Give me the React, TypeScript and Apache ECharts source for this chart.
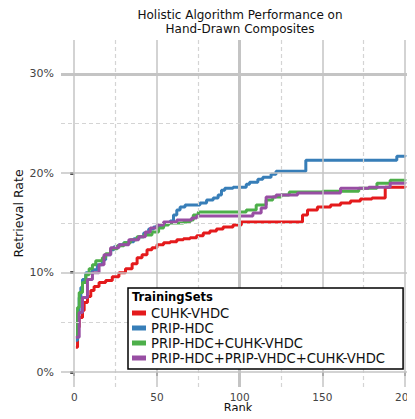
import React, { useEffect, useRef } from "react";
import * as echarts from "echarts";

// Rank vs retrieval rate (%) — step points [rank, rate]
const cuhkVhdc: [number, number][] = [
  [1, 2.5], [2, 4.5], [3, 5.5], [5, 6.2], [6, 7], [8, 7.6], [10, 8.2], [12, 8.6], [15, 9],
  [19, 9.2], [23, 9.6], [27, 10], [31, 10.4], [35, 10.9], [38, 11.5], [41, 11.8], [44, 12.3],
  [47, 12.5], [50, 12.8], [54, 13], [58, 13.1], [62, 13.3], [66, 13.4], [70, 13.5], [74, 13.7],
  [78, 14], [82, 14.2], [86, 14.4], [90, 14.6], [96, 14.8], [101, 15.1], [138, 15.8], [141, 16.3],
  [147, 16.6], [155, 16.8], [161, 17], [167, 17.2], [173, 17.4], [180, 17.5], [188, 18.6], [200, 18.7],
];
const pripHdc: [number, number][] = [
  [1, 3.2], [2, 6], [3, 7.5], [4, 8.5], [5, 9.3], [7, 10], [11, 10.3], [14, 10.8], [17, 11.3],
  [19, 11.8], [22, 12.3], [24, 12.6], [27, 12.8], [30, 13], [33, 13.1], [36, 13.4], [39, 13.6],
  [42, 14], [45, 14.4], [48, 14.6], [52, 14.8], [55, 15], [58, 15.2], [60, 15.8], [62, 16.3],
  [64, 16.6], [67, 16.8], [76, 17], [80, 17.3], [84, 17.5], [87, 17.8], [89, 18.3], [91, 18.5],
  [96, 18.6], [104, 18.9], [106, 19.1], [111, 19.4], [114, 19.6], [119, 19.9], [122, 20.2],
  [140, 21.3], [195, 21.7], [200, 21.8],
];
const pripHdcCuhk: [number, number][] = [
  [1, 3.5], [2, 6.5], [3, 8], [5, 9], [7, 9.8], [9, 10.4], [11, 10.8], [13, 11.2], [17, 11.5],
  [19, 11.9], [22, 12.4], [26, 12.7], [30, 13], [34, 13.3], [38, 13.6], [42, 13.8], [47, 14.1],
  [51, 14.5], [54, 14.8], [57, 15], [66, 15.1], [70, 15.3], [72, 15.8], [75, 16.1], [104, 16.3],
  [110, 16.8], [116, 17.3], [120, 17.6], [125, 17.8], [130, 18.1], [150, 18.2], [172, 18.5],
  [183, 19], [191, 19.3], [200, 19.4],
];
const pripAll: [number, number][] = [
  [1, 3.5], [3, 6], [5, 7.5], [8, 9.3], [11, 10], [15, 10.8], [18, 11.8], [22, 12.5], [27, 12.8],
  [33, 13.3], [39, 13.6], [43, 14.1], [46, 14.5], [50, 14.8], [54, 15.1], [62, 15.3], [71, 15.5],
  [74, 15.7], [108, 16], [113, 16.5], [116, 17.6], [122, 17.8], [135, 18], [161, 18.5], [178, 18.6],
  [191, 19], [200, 19.1],
];

const seriesNames = [
  "CUHK-VHDC",
  "PRIP-HDC",
  "PRIP-HDC+CUHK-VHDC",
  "PRIP-HDC+PRIP-VHDC+CUHK-VHDC",
];
const seriesColors = ["#e41a1c", "#377eb8", "#4daf4a", "#984ea3"];
const seriesData = [cuhkVhdc, pripHdc, pripHdcCuhk, pripAll];

const xTicks = [0, 50, 100, 150, 200];
const xMinor = [25, 75, 125, 175];
const yTicks = [0, 10, 20, 30];
const yMinor = [5, 15, 25];

export default function App() {
  const ref = useRef<HTMLDivElement>(null);
  useEffect(() => {
    if (!ref.current) return;
    const chart = echarts.init(ref.current, null, { renderer: "svg" });
    const major = { color: "#c4c4c4", width: 1.5, type: "solid" };
    const thick = { color: "#c4c4c4", width: 3, type: "solid" };
    const minor = { color: "#d4d4d4", width: 1.2, type: [4, 3] };
    const gridLines: any[] = [];
    xTicks.forEach((v) => gridLines.push({ xAxis: v, lineStyle: v === 100 ? thick : major }));
    xMinor.forEach((v) => gridLines.push({ xAxis: v, lineStyle: minor }));
    yTicks.forEach((v) => gridLines.push({ yAxis: v, lineStyle: v === 30 ? thick : major }));
    yMinor.forEach((v) => gridLines.push({ yAxis: v, lineStyle: minor }));

    chart.setOption({
      animation: false,
      backgroundColor: "#ffffff",
      textStyle: { fontFamily: "DejaVu Sans" },
      title: [
        {
          text: "TrainingSets",
          left: 132,
          top: 291,
          z: 12,
          textStyle: { fontSize: 11.5, fontWeight: "bold", color: "#000", fontFamily: "DejaVu Sans" },
          padding: 0,
        },
      ],
      graphic: [
        {
          type: "text",
          x: 240,
          y: 8,
          style: {
            text: "Holistic Algorithm Performance on\nHand-Drawn Composites",
            textAlign: "center",
            font: "12px 'DejaVu Sans'",
            lineHeight: 14,
            fill: "#111",
          },
        },
      ],
      grid: { left: 61, right: 0, top: 40, bottom: 32, containLabel: false, outerBoundsMode: "none" },
      xAxis: {
        type: "value",
        min: -8,
        max: 206,
        name: "Rank",
        nameLocation: "middle",
        nameGap: 15,
        nameMoveOverlap: false,
        nameTextStyle: { fontSize: 11.5, color: "#111", lineHeight: 12 },
        axisLine: { show: false },
        splitLine: { show: false },
        axisTick: { show: true, customValues: xTicks, length: 4, lineStyle: { color: "#333", width: 1.5 } },
        axisLabel: { customValues: xTicks, fontSize: 10.5, lineHeight: 11, color: "#444", margin: 4 },
      },
      yAxis: {
        type: "value",
        min: -1.5,
        max: 33.4,
        name: "Retrieval Rate",
        nameLocation: "middle",
        nameGap: 36,
        nameMoveOverlap: false,
        nameRotate: 90,
        nameTextStyle: { fontSize: 12.5, color: "#111" },
        axisLine: { show: false },
        splitLine: { show: false },
        axisTick: { show: true, customValues: yTicks, length: 4, lineStyle: { color: "#111", width: 2.5 } },
        axisLabel: {
          customValues: yTicks,
          fontSize: 11,
          color: "#444",
          margin: 7,
          formatter: (v: number) => `${v}%`,
        },
      },
      legend: {
        orient: "vertical",
        left: 128,
        top: 288,
        z: 10,
        data: seriesNames,
        icon: "rect",
        itemWidth: 14,
        itemHeight: 5,
        itemGap: 1,
        padding: [18, 18, 4, 4],
        borderColor: "#000",
        borderWidth: 1.5,
        borderRadius: 0,
        backgroundColor: "#fff",
        textStyle: { fontSize: 13.2, lineHeight: 14, color: "#111", fontFamily: "DejaVu Sans" },
        selectedMode: false,
      },
      series: [
        {
          name: "grid",
          type: "line",
          data: [],
          silent: true,
          z: 1,
          markLine: {
            silent: true,
            symbol: ["none", "none"],
            label: { show: false },
            animation: false,
            data: gridLines,
          },
        },
        ...seriesNames.map((name, i) => ({
          name,
          type: "line",
          step: "end",
          data: seriesData[i],
          showSymbol: false,
          symbol: "none",
          z: 3,
          color: seriesColors[i],
          lineStyle: { width: 3, color: seriesColors[i] },
        })),
      ],
    });
    return () => chart.dispose();
  }, []);
  return <div ref={ref} style={{ width: 415, height: 419, margin: -8 }} />;
}
